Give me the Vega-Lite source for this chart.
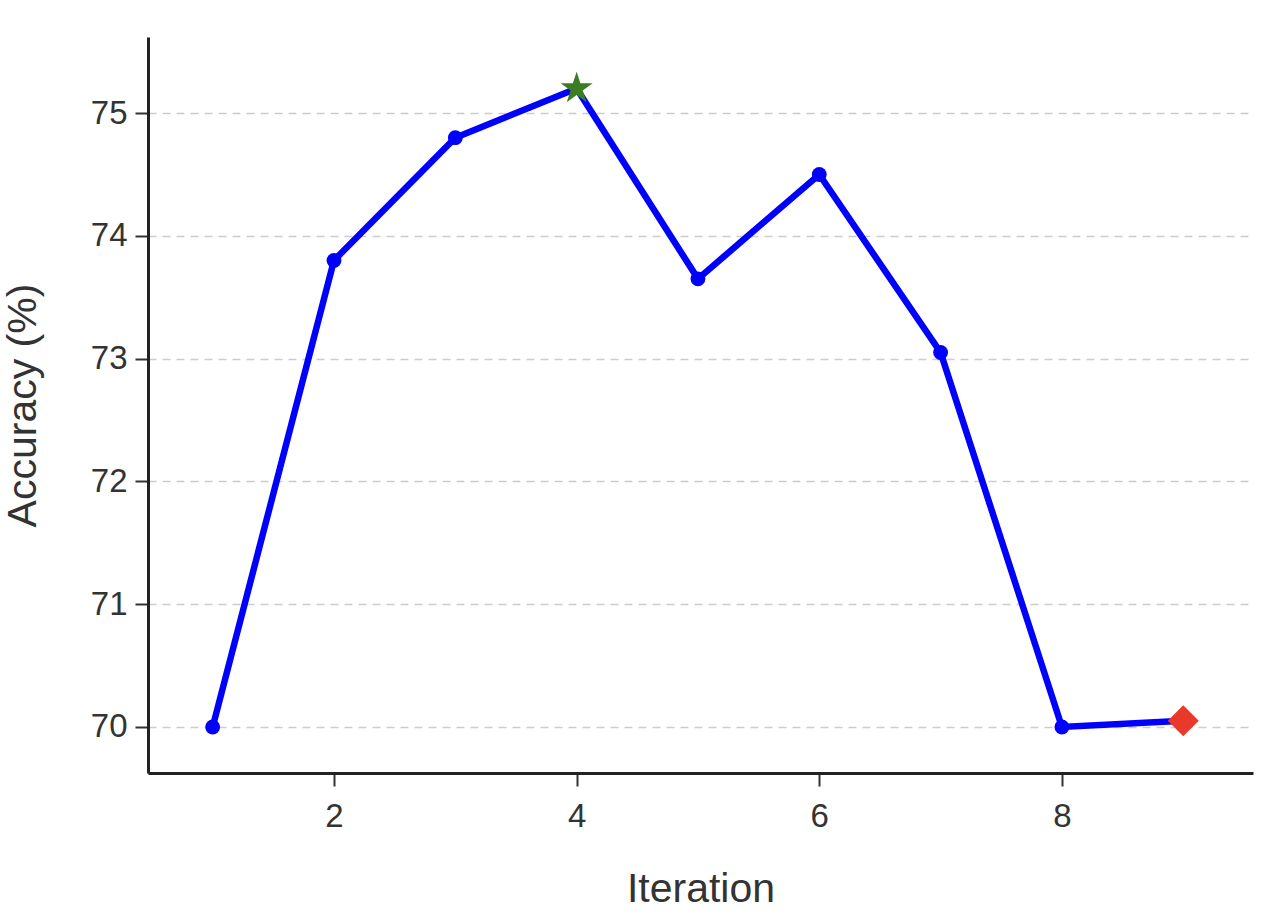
{
  "$schema": "https://vega.github.io/schema/vega-lite/v6.json",
  "width": 1105,
  "height": 736,
  "autosize": {"type": "none"},
  "padding": {"left": 148, "top": 37, "right": 15, "bottom": 143},
  "background": "white",
  "config": {
    "font": "Liberation Sans",
    "view": {"stroke": null},
    "axis": {
      "labelFont": "Liberation Sans",
      "titleFont": "Liberation Sans",
      "labelColor": "#333333",
      "titleColor": "#333333",
      "labelFontSize": 33,
      "titleFontSize": 41,
      "titleFontWeight": "normal",
      "domainColor": "#222222",
      "domainWidth": 3,
      "tickColor": "#333333",
      "tickWidth": 2,
      "tickSize": 13
    }
  },
  "data": {
    "values": [
      {"iteration": 1, "accuracy": 70.0, "status": "normal"},
      {"iteration": 2, "accuracy": 73.8, "status": "normal"},
      {"iteration": 3, "accuracy": 74.8, "status": "normal"},
      {"iteration": 4, "accuracy": 75.2, "status": "best"},
      {"iteration": 5, "accuracy": 73.65, "status": "normal"},
      {"iteration": 6, "accuracy": 74.5, "status": "normal"},
      {"iteration": 7, "accuracy": 73.05, "status": "normal"},
      {"iteration": 8, "accuracy": 70.0, "status": "normal"},
      {"iteration": 9, "accuracy": 70.05, "status": "final"}
    ]
  },
  "encoding": {
    "x": {
      "field": "iteration",
      "type": "quantitative",
      "title": "Iteration",
      "scale": {"domain": [0.467, 9.575], "nice": false, "zero": false},
      "axis": {"values": [2, 4, 6, 8], "grid": false, "labelPadding": 14, "titlePadding": 36}
    },
    "y": {
      "field": "accuracy",
      "type": "quantitative",
      "title": "Accuracy (%)",
      "scale": {"domain": [69.625, 75.62], "nice": false, "zero": false},
      "axis": {
        "values": [70, 71, 72, 73, 74, 75],
        "grid": true,
        "gridColor": "#cccccc",
        "gridWidth": 1.5,
        "gridDash": [8, 6],
        "labelPadding": 8,
        "titlePadding": 46
      }
    }
  },
  "layer": [
    {"mark": {"type": "line", "color": "#0000ff", "strokeWidth": 6.5}, "encoding": {}},
    {
      "transform": [{"filter": "datum.status === 'normal'"}],
      "mark": {"type": "point", "shape": "circle", "filled": true, "color": "#0000ff", "size": 220, "opacity": 1},
      "encoding": {}
    },
    {
      "transform": [{"filter": "datum.status === 'best'"}],
      "mark": {"type": "point", "shape": "M0,-1L0.225,-0.309L0.951,-0.309L0.363,0.118L0.588,0.809L0,0.382L-0.588,0.809L-0.363,0.118L-0.951,-0.309L-0.225,-0.309Z", "filled": true, "color": "#3a7d22", "size": 1130, "opacity": 1},
      "encoding": {}
    },
    {
      "transform": [{"filter": "datum.status === 'final'"}],
      "mark": {"type": "point", "shape": "diamond", "filled": true, "color": "#e8392a", "size": 960, "opacity": 1},
      "encoding": {}
    }
  ]
}
